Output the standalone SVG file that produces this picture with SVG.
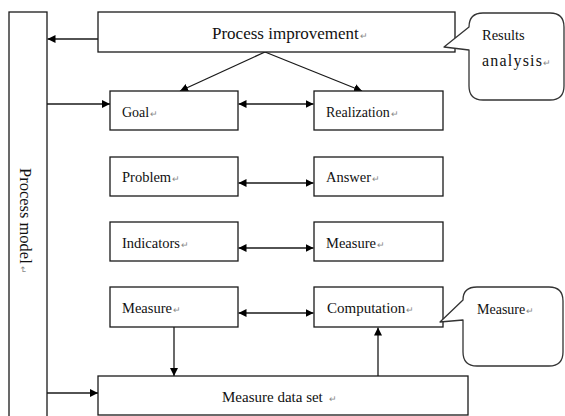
<svg xmlns="http://www.w3.org/2000/svg" width="565" height="416" viewBox="0 0 565 416">
  <style>
    .box { fill: #ffffff; stroke: #1a1a1a; stroke-width: 1.3; }
    .bubble { fill: #ffffff; stroke: #333333; stroke-width: 1.3; stroke-linejoin: round; }
    .lbl { font-family: "Liberation Serif", "Times New Roman", serif; font-size: 14.5px; fill: #111111; }
    .pm { font-family: "Liberation Sans", Arial, sans-serif; font-size: 9px; fill: #888888; }
    .link { fill: none; stroke: #1a1a1a; stroke-width: 1.3; }
  </style>
  <defs>
    <marker id="arrowEnd" viewBox="0 0 10 10" refX="10" refY="5" markerWidth="8" markerHeight="8" markerUnits="userSpaceOnUse" orient="auto">
      <path d="M0,0 L10,5 L0,10 Z" fill="#000000"/>
    </marker>
    <marker id="arrowStart" viewBox="0 0 10 10" refX="0" refY="5" markerWidth="8" markerHeight="8" markerUnits="userSpaceOnUse" orient="auto">
      <path d="M10,0 L0,5 L10,10 Z" fill="#000000"/>
    </marker>
  </defs>

  <rect width="565" height="416" fill="#ffffff"/>

  <!-- connectors -->
  <g id="connectors">
    <line class="link" x1="98" y1="39" x2="47.5" y2="39" marker-end="url(#arrowEnd)"/>
    <line class="link" x1="265" y1="52" x2="180" y2="91" marker-end="url(#arrowEnd)"/>
    <line class="link" x1="265" y1="52" x2="362" y2="91" marker-end="url(#arrowEnd)"/>
    <line class="link" x1="47" y1="104" x2="110" y2="104" marker-end="url(#arrowEnd)"/>
    <line class="link" x1="238.5" y1="104" x2="313.5" y2="104" marker-start="url(#arrowStart)" marker-end="url(#arrowEnd)"/>
    <line class="link" x1="238.5" y1="183" x2="313.5" y2="183" marker-start="url(#arrowStart)" marker-end="url(#arrowEnd)"/>
    <line class="link" x1="238.5" y1="248" x2="313.5" y2="248" marker-start="url(#arrowStart)" marker-end="url(#arrowEnd)"/>
    <line class="link" x1="238.5" y1="313" x2="313.5" y2="313" marker-start="url(#arrowStart)" marker-end="url(#arrowEnd)"/>
    <line class="link" x1="174" y1="327" x2="174" y2="376" marker-end="url(#arrowEnd)"/>
    <line class="link" x1="378" y1="376" x2="378" y2="327.5" marker-end="url(#arrowEnd)"/>
    <line class="link" x1="47" y1="393" x2="98" y2="393" marker-end="url(#arrowEnd)"/>
  </g>

  <!-- tall side column -->
  <g id="process-model">
    <rect class="box" x="9" y="12" width="38" height="420"/>
    <text class="lbl" style="font-size:16.5px" transform="translate(20,168) rotate(90)" x="0" y="0">Process model<tspan class="pm" dx="2">↵</tspan></text>
  </g>

  <g id="process-improvement">
    <rect class="box" x="98" y="12" width="357" height="40"/>
    <text class="lbl" style="font-size:17px" x="212" y="39">Process improvement<tspan class="pm" dx="1">↵</tspan></text>
  </g>

  <g id="results-analysis">
    <path class="bubble" d="M483,13 H550 Q564,13 564,27 V86 Q564,100 550,100 H483 Q469,100 469,86 V50 L444,47 L469,27 Q469,13 483,13 Z"/>
    <text class="lbl" x="482" y="40">Results</text>
    <text class="lbl" x="482" y="66"><tspan style="font-size:16px" letter-spacing="1.2">analysis</tspan><tspan class="pm">↵</tspan></text>
  </g>

  <g id="goal">
    <rect class="box" x="110" y="91" width="128" height="39"/>
    <text class="lbl" style="font-size:14px" x="122" y="117">Goal<tspan class="pm" dx="1">↵</tspan></text>
  </g>

  <g id="realization">
    <rect class="box" x="314" y="91" width="129" height="39"/>
    <text class="lbl" style="font-size:14px" x="326" y="117">Realization<tspan class="pm" dx="1">↵</tspan></text>
  </g>

  <g id="problem">
    <rect class="box" x="110" y="157" width="128" height="39"/>
    <text class="lbl" x="122" y="182">Problem<tspan class="pm" dx="1">↵</tspan></text>
  </g>

  <g id="answer">
    <rect class="box" x="314" y="157" width="129" height="39"/>
    <text class="lbl" x="326" y="182">Answer<tspan class="pm" dx="1">↵</tspan></text>
  </g>

  <g id="indicators">
    <rect class="box" x="110" y="222" width="128" height="39"/>
    <text class="lbl" x="122" y="248">Indicators<tspan class="pm" dx="1">↵</tspan></text>
  </g>

  <g id="measure-right">
    <rect class="box" x="314" y="222" width="129" height="39"/>
    <text class="lbl" x="326" y="248">Measure<tspan class="pm" dx="1">↵</tspan></text>
  </g>

  <g id="measure-left">
    <rect class="box" x="110" y="287" width="128" height="40"/>
    <text class="lbl" x="122" y="313">Measure<tspan class="pm" dx="1">↵</tspan></text>
  </g>

  <g id="computation">
    <rect class="box" x="314" y="287" width="129" height="40"/>
    <text class="lbl" style="font-size:15px" x="327" y="313">Computation<tspan class="pm" dx="1">↵</tspan></text>
  </g>

  <g id="measure-note">
    <path class="bubble" d="M477,287 H549 Q563,287 563,301 V352 Q563,366 549,366 H477 Q463,366 463,352 V320 L440,322 L463,300 Q463,287 477,287 Z"/>
    <text class="lbl" style="font-size:14px" x="477" y="314">Measure<tspan class="pm" dx="1">↵</tspan></text>
  </g>

  <g id="measure-data-set">
    <rect class="box" x="98" y="376" width="370" height="39"/>
    <text class="lbl" style="font-size:15px" x="222" y="402">Measure data set <tspan class="pm" dx="2">↵</tspan></text>
  </g>
</svg>
